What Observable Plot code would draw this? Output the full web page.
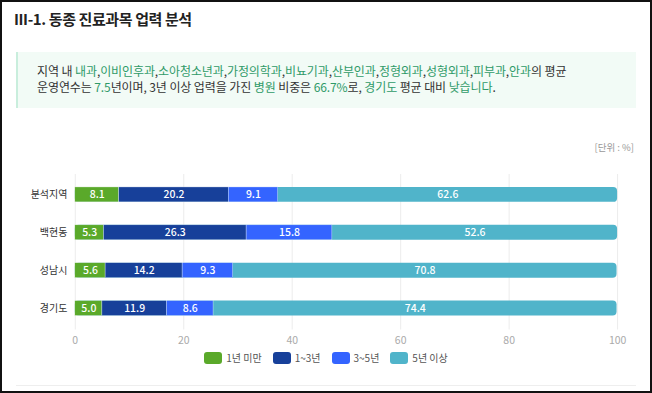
<!DOCTYPE html>
<html><head><meta charset="utf-8">
<script src="https://cdn.jsdelivr.net/npm/d3@7"></script>
<script src="https://cdn.jsdelivr.net/npm/@observablehq/plot@0.6"></script>
<style>
html,body{margin:0;padding:0;background:#fff;}
#frame{position:relative;width:652px;height:393px;box-sizing:border-box;border:2px solid #111;overflow:hidden;font-family:"Noto Sans CJK KR","Noto Sans",sans-serif;color:#333;}
#title{position:absolute;left:12px;top:6px;font-size:15px;font-weight:700;color:#222;letter-spacing:-0.4px;}
#box{position:absolute;left:14px;top:50px;width:620px;height:56px;background:#f2fbf6;border-left:2px solid #c9eedd;box-sizing:border-box;padding:11px 0 0 19px;font-size:12px;line-height:16px;color:#333;letter-spacing:-0.1px;}
#box .g{color:#2f9a68;}
#unit{position:absolute;right:16px;top:138px;font-size:9.5px;color:#999;}
#chart{position:absolute;left:-2px;top:158px;}
#legend{position:absolute;left:-2px;top:348px;width:652px;display:flex;justify-content:center;gap:11px;font-size:10px;color:#555;}
#legend .it{display:flex;align-items:center;gap:4px;}
#legend .sw{width:18px;height:12px;border-radius:3px;}
#rule{position:absolute;left:14px;top:383px;width:620px;height:1px;background:#eee;}
</style></head>
<body><div id="frame">
<div id="title">III-1. 동종 진료과목 업력 분석</div>
<div id="box"></div>
<div id="unit">[단위 : %]</div>
<div id="chart"></div>
<div id="legend"></div>
<div id="rule"></div>
</div>
<script>
const regions = ["분석지역", "백현동", "성남시", "경기도"];
const categories = ["1년 미만", "1~3년", "3~5년", "5년 이상"];
const lessThan1 = [8.1, 5.3, 5.6, 5.0];
const from1to3 = [20.2, 26.3, 14.2, 11.9];
const from3to5 = [9.1, 15.8, 9.3, 8.6];
const over5 = [62.6, 52.6, 70.8, 74.4];
const colors = ["#5aa92a", "#17409a", "#3464ff", "#50b4ca"];
const xTicks = [0, 20, 40, 60, 80, 100];

const specialties = ["내과","이비인후과","소아청소년과","가정의학과","비뇨기과","산부인과","정형외과","성형외과","피부과","안과"];
const avgYears = "7.5";
const share = "66.7%";

const g = s => `<span class="g">${s}</span>`;
document.getElementById("box").innerHTML =
  `지역 내 ${specialties.map(g).join(",")}의 평균<br>` +
  `운영연수는 ${g(avgYears)}년이며, 3년 이상 업력을 가진 ${g("병원")} 비중은 ${g(share)}로, ${g("경기도")} 평균 대비 ${g("낮습니다")}.`;

const series = [lessThan1, from1to3, from3to5, over5];
const rows = [];
regions.forEach((r, i) => categories.forEach((c, j) => rows.push({region: r, cat: c, value: series[j][i]})));
const totals = regions.map((r, i) => ({region: r, total: d3.sum(series, s => s[i])}));

const chart = Plot.plot({
  width: 652, height: 192,
  marginLeft: 75, marginRight: 33, marginTop: 14, marginBottom: 22,
  style: {fontFamily: '"Noto Sans CJK KR", sans-serif', background: "transparent"},
  x: {domain: [0, 100]},
  y: {domain: regions, paddingInner: 0.595, paddingOuter: 0.3},
  color: {domain: categories, range: colors},
  marks: [
    Plot.ruleX(xTicks, {stroke: "#ececec"}),
    Plot.barX(totals, {y: "region", x1: 0, x2: "total", fill: colors[3], rx: 4}),
    Plot.barX(rows, Plot.stackX({y: "region", x: "value", fill: "cat", stroke: "#fff", strokeWidth: 0.5, strokeOpacity: 0.7, filter: d => d.cat !== categories[3]})),
    Plot.text(rows, Plot.stackX({y: "region", x: "value", text: d => d.value.toFixed(1), fill: "#fff", fontSize: 10.5, fontWeight: 500})),
    Plot.axisX({ticks: xTicks, tickSize: 0, tickPadding: 7, fill: "#aaa", fontSize: 10.5, label: null}),
    Plot.axisY({tickSize: 0, tickPadding: 8, fill: "#333", fontSize: 10, label: null})
  ]
});
document.getElementById("chart").appendChild(chart);

const lg = document.getElementById("legend");
categories.forEach((c, i) => {
  const it = document.createElement("div"); it.className = "it";
  it.innerHTML = `<span class="sw" style="background:${colors[i]}"></span><span>${c}</span>`;
  lg.appendChild(it);
});
</script>
</body></html>
